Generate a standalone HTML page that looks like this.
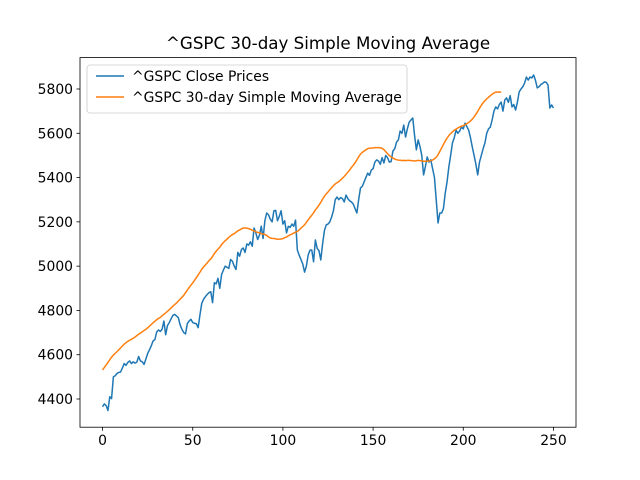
<!DOCTYPE html>
<html><head><meta charset="utf-8"><style>body{margin:0;background:#fff}svg{display:block;font-family:"DejaVu Sans","Liberation Sans",sans-serif}</style></head>
<body>
<svg id="chart" width="640" height="480" xmlns="http://www.w3.org/2000/svg">
<rect width="640" height="480" fill="#fff"/>
<text x="328" y="49" font-size="16.7" text-anchor="middle" fill="#000">^GSPC 30-day Simple Moving Average</text>
<g id="plot"></g>
<rect x="80" y="57.6" width="496" height="369.6" fill="none" stroke="#000" stroke-width="0.8"/>
<g>
<rect x="87" y="65" width="320" height="48" rx="3" fill="#fff" fill-opacity="0.8" stroke="#ccc" stroke-width="0.8"/>
<line x1="96" y1="76" x2="124" y2="76" stroke="#1f77b4" stroke-width="1.5"/>
<text x="132" y="81" font-size="13.9">^GSPC Close Prices</text>
<line x1="96" y1="97" x2="124" y2="97" stroke="#ff7f0e" stroke-width="1.5"/>
<text x="132" y="102" font-size="13.9">^GSPC 30-day Simple Moving Average</text>
</g>
</svg>
<script>
const closePrices = [4365,4378,4370,4348,4410,4402,4500,4505,4515,4520,
4522,4540,4560,4552,4565,4572,4560,4568,4562,4566,
4592,4572,4568,4556,4580,4605,4622,4640,4662,4668,
4702,4712,4705,4715,4752,4690,4732,4745,4762,4778,
4782,4775,4768,4735,4715,4700,4694,4740,4752,4760,
4745,4742,4740,4722,4780,4832,4850,4862,4872,4880,
4885,4835,4925,4920,4945,4900,4962,4982,5000,4995,
4990,5030,5022,5000,4985,5062,5045,5075,5082,5062,
5100,5095,5110,5090,5172,5150,5120,5140,5180,5125,
5205,5240,5232,5212,5200,5250,5252,5205,5225,5250,
5190,5205,5150,5180,5175,5190,5180,5208,5073,5050,
5030,5010,4973,5000,5050,5072,5073,5020,5118,5080,
5070,5028,5100,5160,5186,5190,5200,5222,5250,5300,
5312,5300,5310,5305,5290,5321,5305,5295,5290,5280,
5260,5240,5300,5353,5360,5380,5400,5420,5410,5434,
5440,5470,5480,5475,5460,5490,5466,5500,5490,5470,
5472,5520,5530,5560,5570,5610,5600,5637,5583,5620,
5650,5660,5669,5590,5525,5570,5540,5500,5412,5450,
5493,5470,5480,5440,5402,5300,5195,5240,5240,5260,
5330,5380,5448,5500,5556,5580,5614,5600,5610,5628,
5620,5646,5630,5614,5580,5538,5500,5460,5412,5470,
5500,5530,5556,5600,5620,5628,5660,5700,5719,5710,
5730,5741,5700,5750,5760,5740,5770,5719,5730,5705,
5740,5787,5800,5810,5827,5854,5840,5854,5850,5863,
5840,5805,5810,5820,5825,5832,5830,5818,5714,5728,
5714];
const windowSize = 30;
const xTicks = [0,50,100,150,200,250];
const yTicks = [4400,4600,4800,5000,5200,5400,5600,5800];

const sma = [];
for (let i = 0; i + windowSize <= closePrices.length; i++) {
  let s = 0; for (let j = i; j < i + windowSize; j++) s += closePrices[j];
  sma.push(s / windowSize);
}
const X = v => 102.55 + v * (553.45 - 102.55) / 250;
const Y = v => 399 - (v - 4400) * 0.22143;
const NS = 'http://www.w3.org/2000/svg';
const g = document.getElementById('plot');
function mk(tag, attrs) { const e = document.createElementNS(NS, tag); for (const k in attrs) e.setAttribute(k, attrs[k]); g.appendChild(e); return e; }
xTicks.forEach(t => {
  const l = mk('line', {x1: X(t), x2: X(t), y1: 427.2, y2: 430.7, stroke: '#000', 'stroke-width': 0.8});
  
  
  const tx = mk('text', {x: X(t), y: 445, 'font-size': 13.9, 'text-anchor': 'middle'});
  tx.textContent = t;
  
  
});
yTicks.forEach(t => {
  const l = mk('line', {x1: 76.5, x2: 80, y1: Y(t), y2: Y(t), stroke: '#000', 'stroke-width': 0.8});
  
  
  const tx = mk('text', {x: 73, y: Y(t) + 5, 'font-size': 13.9, 'text-anchor': 'end'});
  tx.textContent = t;
  
  
});
const p1 = mk('polyline', {points: closePrices.map((v, i) => X(i) + ',' + Y(v)).join(' '), fill: 'none', stroke: '#1f77b4', 'stroke-width': 1.5, 'stroke-linejoin': 'round'});


const p2 = mk('polyline', {points: sma.map((v, i) => X(i) + ',' + Y(v)).join(' '), fill: 'none', stroke: '#ff7f0e', 'stroke-width': 1.5, 'stroke-linejoin': 'round'});


</script>
</body></html>
